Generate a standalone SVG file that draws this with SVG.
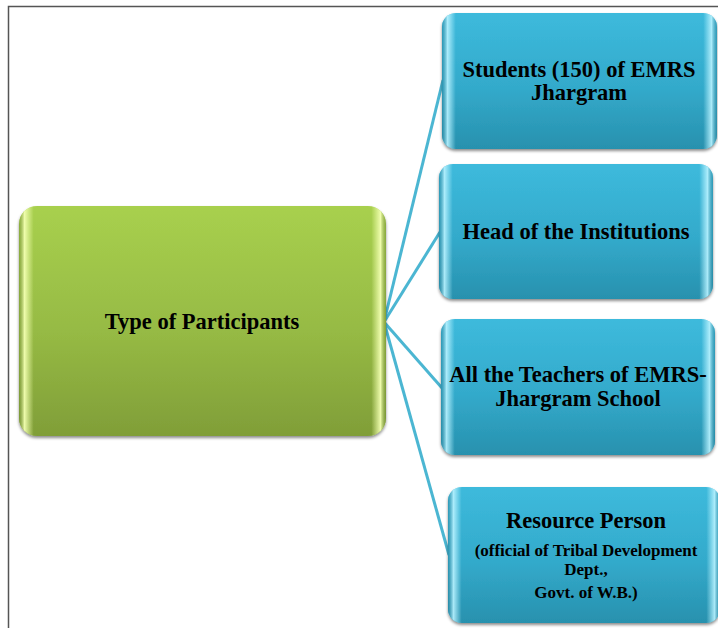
<svg xmlns="http://www.w3.org/2000/svg" width="718" height="628" viewBox="0 0 718 628">
  <defs>
    <linearGradient id="tealFill" x1="0" y1="0" x2="0" y2="1">
      <stop offset="0" stop-color="#3DBADC"/>
      <stop offset="0.55" stop-color="#33AACB"/>
      <stop offset="1" stop-color="#2891AE"/>
    </linearGradient>
    <linearGradient id="greenFill" x1="0" y1="0" x2="0" y2="1">
      <stop offset="0" stop-color="#A8D04E"/>
      <stop offset="0.55" stop-color="#96BA44"/>
      <stop offset="1" stop-color="#809E38"/>
    </linearGradient>
    <linearGradient id="tealEdge" x1="0" y1="0" x2="1" y2="0">
      <stop offset="0" stop-color="#1F7E98" stop-opacity="0.5"/>
      <stop offset="0.02" stop-color="#B8F2FF" stop-opacity="0.9"/>
      <stop offset="0.05" stop-color="#B8F2FF" stop-opacity="0"/>
      <stop offset="0.95" stop-color="#B8F2FF" stop-opacity="0"/>
      <stop offset="0.98" stop-color="#B8F2FF" stop-opacity="0.9"/>
      <stop offset="1" stop-color="#1F7E98" stop-opacity="0.5"/>
    </linearGradient>
    <linearGradient id="greenEdge" x1="0" y1="0" x2="1" y2="0">
      <stop offset="0" stop-color="#6E8A2C" stop-opacity="0.5"/>
      <stop offset="0.015" stop-color="#F2FFB0" stop-opacity="0.95"/>
      <stop offset="0.04" stop-color="#F2FFB0" stop-opacity="0"/>
      <stop offset="0.96" stop-color="#F2FFB0" stop-opacity="0"/>
      <stop offset="0.985" stop-color="#F2FFB0" stop-opacity="0.95"/>
      <stop offset="1" stop-color="#6E8A2C" stop-opacity="0.5"/>
    </linearGradient>
    <filter id="shadow" x="-10%" y="-10%" width="120%" height="125%">
      <feDropShadow dx="0" dy="2" stdDeviation="1.5" flood-color="#000" flood-opacity="0.45"/>
    </filter>
  </defs>
  <style>
    .lbl { font-family: "Liberation Serif", "Times New Roman", serif; font-weight: bold; fill: #000; text-anchor: middle; }
    .big { font-size: 22.5px; }
    .small { font-size: 17px; }
    .conn { stroke: #4BB6D2; stroke-width: 3; fill: none; }
  </style>

  <rect width="718" height="628" fill="#fff"/>
  <!-- page frame -->
  <path d="M8.5 628 V6.5 H718" fill="none" stroke="#555" stroke-width="1.5"/>

  <g id="connectors">
    <line class="conn" x1="384" y1="322" x2="443" y2="80"/>
    <line class="conn" x1="384" y1="322" x2="440" y2="232"/>
    <line class="conn" x1="384" y1="322" x2="442" y2="388"/>
    <line class="conn" x1="384" y1="322" x2="449" y2="555"/>
  </g>

  <g id="root">
    <g filter="url(#shadow)">
      <rect x="19" y="206" width="367" height="230" rx="18" fill="url(#greenFill)"/>
    </g>
    <rect x="19" y="206" width="367" height="230" rx="18" fill="url(#greenEdge)"/>
    <text class="lbl big" x="202" y="329">Type of Participants</text>
  </g>

  <g id="students">
    <g filter="url(#shadow)">
      <rect x="442" y="13" width="275" height="136" rx="14" fill="url(#tealFill)"/>
    </g>
    <rect x="442" y="13" width="275" height="136" rx="14" fill="url(#tealEdge)"/>
    <text class="lbl big" x="579" y="77">Students (150) of EMRS</text>
    <text class="lbl big" x="579" y="100">Jhargram</text>
  </g>

  <g id="heads">
    <g filter="url(#shadow)">
      <rect x="439" y="164" width="274" height="135" rx="14" fill="url(#tealFill)"/>
    </g>
    <rect x="439" y="164" width="274" height="135" rx="14" fill="url(#tealEdge)"/>
    <text class="lbl big" x="576" y="239">Head of the Institutions</text>
  </g>

  <g id="teachers">
    <g filter="url(#shadow)">
      <rect x="441" y="319" width="274" height="136" rx="14" fill="url(#tealFill)"/>
    </g>
    <rect x="441" y="319" width="274" height="136" rx="14" fill="url(#tealEdge)"/>
    <text class="lbl big" x="578" y="382">All the Teachers of EMRS-</text>
    <text class="lbl big" x="578" y="406">Jhargram School</text>
  </g>

  <g id="resource">
    <g filter="url(#shadow)">
      <rect x="448" y="487" width="272" height="136" rx="14" fill="url(#tealFill)"/>
    </g>
    <rect x="448" y="487" width="272" height="136" rx="14" fill="url(#tealEdge)"/>
    <text class="lbl big" x="586" y="528">Resource Person</text>
    <text class="lbl small" x="586" y="556">(official of Tribal Development</text>
    <text class="lbl small" x="586" y="575">Dept.,</text>
    <text class="lbl small" x="586" y="598">Govt. of W.B.)</text>
  </g>
</svg>
